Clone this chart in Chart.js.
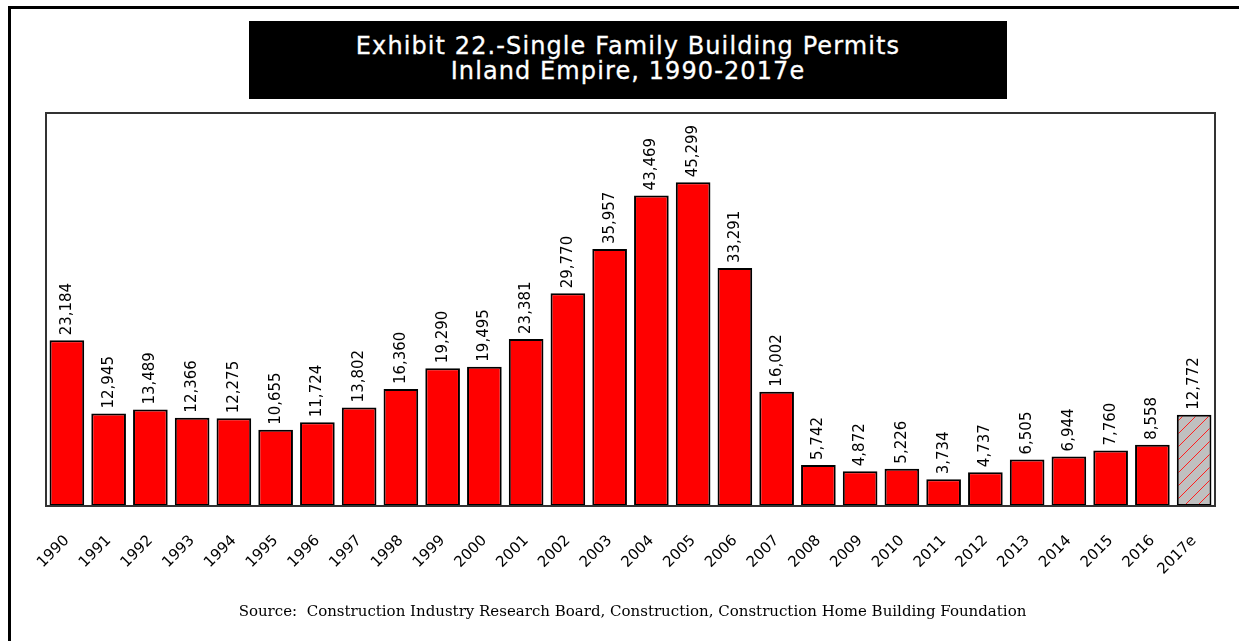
<!DOCTYPE html>
<html lang="en">
<head>
<meta charset="UTF-8">
<title>Exhibit 22 - Single Family Building Permits, Inland Empire 1990-2017e</title>
<script src="https://cdn.jsdelivr.net/npm/chart.js"></script>
<style>
body {
margin: 0;
background: #ffffff;
}
.page {
position: relative;
width: 1239px;
height: 641px;
overflow: hidden;
background: #ffffff;
}
.frame {
position: absolute;
left: 8px;
top: 6px;
right: -10px;
bottom: -10px;
border-top: 3px solid #000;
border-left: 3px solid #000;
}
.title-box {
position: absolute;
left: 249px;
top: 21px;
width: 758px;
height: 78px;
background: #000;
color: #fff;
font-family: 'DejaVu Sans', sans-serif;
font-size: 24px;
letter-spacing: 1.1px;
text-align: center;
line-height: 25px;
padding-top: 13px;
box-sizing: border-box;
-webkit-text-stroke: 0.3px #fff;
}
.source {
position: absolute;
left: 0;
width: 1265px;
top: 602px;
text-align: center;
font-family: 'DejaVu Serif', serif;
font-size: 15px;
color: #000;
}
canvas {
position: absolute;
left: 0;
top: 0;
}
</style>
</head>
<body>
<div class="page">
<div class="frame"></div>
<div class="title-box">Exhibit 22.-Single Family Building Permits<br>Inland Empire, 1990-2017e</div>
<div class="chart-wrap" style="position:absolute;left:0;top:0;width:1239px;height:641px;">
<canvas id="permitChart"></canvas>
</div>
<div class="source">Source:&nbsp; Construction Industry Research Board, Construction, Construction Home Building Foundation</div>
</div>

<script>
// years on the x axis (2017 is an estimate)
const years = ['1990', '1991', '1992', '1993', '1994', '1995', '1996', '1997', '1998', '1999',
  '2000', '2001', '2002', '2003', '2004', '2005', '2006', '2007', '2008', '2009',
  '2010', '2011', '2012', '2013', '2014', '2015', '2016', '2017e'];

// single family permits issued
const permits = [23184, 12945, 13489, 12366, 12275, 10655, 11724, 13802, 16360, 19290,
  19495, 23381, 29770, 35957, 43469, 45299, 33291, 16002, 5742, 4872,
  5226, 3734, 4737, 6505, 6944, 7760, 8558, 12772];

const yMax = 55000;

// hatched grey fill for the estimate bar
function makeHatch() {
  const c = document.createElement('canvas');
  c.width = 13;
  c.height = 13;
  const g = c.getContext('2d');
  g.fillStyle = '#c0c0c0';
  g.fillRect(0, 0, 13, 13);
  g.strokeStyle = '#ff2020';
  g.lineWidth = 1;
  g.beginPath();
  g.moveTo(-1, 14);
  g.lineTo(14, -1);
  g.stroke();
  return g.createPattern(c, 'repeat');
}
const hatch = makeHatch();
const barColors = years.map(y => y.endsWith('e') ? hatch : '#ff0000');

// box around the plot area
const plotBorder = {
  id: 'plotBorder',
  afterDraw(chart) {
    const a = chart.chartArea;
    const ctx = chart.ctx;
    ctx.save();
    ctx.strokeStyle = '#333';
    ctx.lineWidth = 2;
    ctx.strokeRect(a.left, a.top, a.right - a.left, a.bottom - a.top);
    ctx.restore();
  }
};

// rotated value labels above the bars
const valueLabels = {
  id: 'valueLabels',
  afterDatasetsDraw(chart) {
    const ctx = chart.ctx;
    const meta = chart.getDatasetMeta(0);
    ctx.save();
    ctx.font = '15px "DejaVu Sans", sans-serif';
    ctx.fillStyle = '#000';
    ctx.textAlign = 'left';
    ctx.textBaseline = 'middle';
    meta.data.forEach((bar, i) => {
      ctx.save();
      ctx.translate(bar.x, bar.y - 5);
      ctx.rotate(-Math.PI / 2);
      ctx.fillText(permits[i].toLocaleString('en-US'), 0, 0);
      ctx.restore();
    });
    ctx.restore();
  }
};

const ctx = document.getElementById('permitChart').getContext('2d');
new Chart(ctx, {
  type: 'bar',
  data: {
    labels: years,
    datasets: [{
      label: 'Single Family Building Permits',
      data: permits,
      backgroundColor: barColors,
      borderColor: '#000',
      borderWidth: 2,
      borderSkipped: false,
      barPercentage: 0.83,
      categoryPercentage: 1.0
    }]
  },
  options: {
    responsive: true,
    maintainAspectRatio: false,
    animation: false,
    layout: {
      padding: { left: 46, right: 24, top: 113, bottom: 35 }
    },
    plugins: {
      legend: { display: false },
      tooltip: { enabled: false }
    },
    scales: {
      x: {
        grid: { display: false, drawTicks: false },
        border: { display: false },
        afterFit(scale) { scale.height = 100; },
        ticks: {
          autoSkip: false,
          maxRotation: 45,
          minRotation: 45,
          padding: 26,
          color: '#000',
          font: { family: 'DejaVu Sans', size: 15 }
        }
      },
      y: {
        display: false,
        min: 0,
        max: yMax
      }
    }
  },
  plugins: [plotBorder, valueLabels]
});
</script>
</body>
</html>
